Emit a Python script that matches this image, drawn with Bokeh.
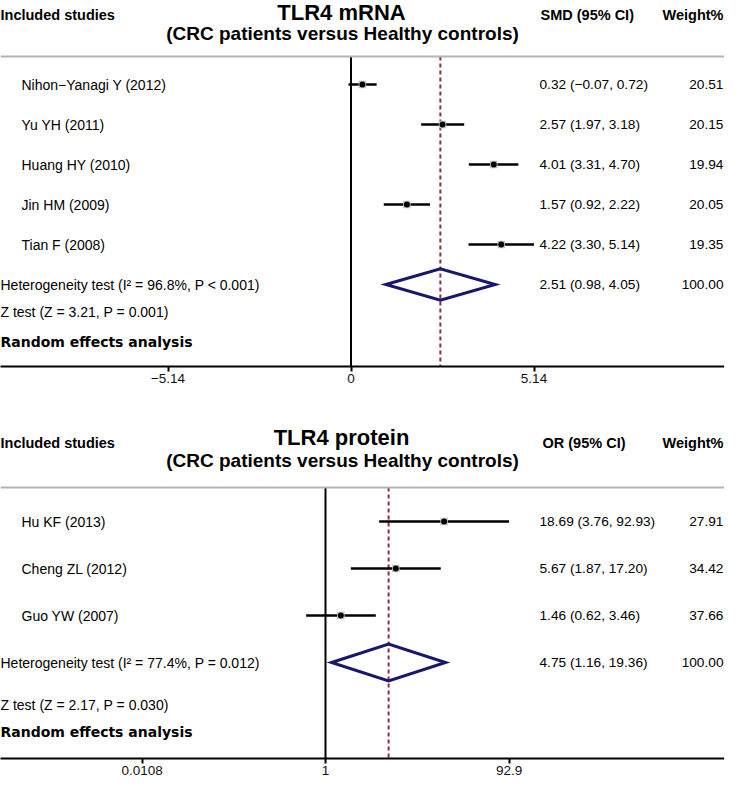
import math
from bokeh.plotting import figure
from bokeh.layouts import column
from bokeh.models import (Range1d, ColumnDataSource, LabelSet, Label, FixedTicker, Span)
from bokeh.core.properties import value
from bokeh.embed import file_html
from bokeh.resources import INLINE

# ---------------- data: TLR4 mRNA (SMD) ----------------
mrna_studies = ["Nihon\u2212Yanagi Y (2012)", "Yu YH (2011)", "Huang HY (2010)", "Jin HM (2009)", "Tian F (2008)"]
mrna_est = [0.32, 2.57, 4.01, 1.57, 4.22]
mrna_lo = [-0.07, 1.97, 3.31, 0.92, 3.30]
mrna_hi = [0.72, 3.18, 4.70, 2.22, 5.14]
mrna_weight = [20.51, 20.15, 19.94, 20.05, 19.35]
mrna_pooled = [2.51, 0.98, 4.05]
mrna_het = "Heterogeneity test (I\u00b2 = 96.8%, P < 0.001)"
mrna_z = "Z test (Z = 3.21, P = 0.001)"
mrna_ticks = [-5.14, 0, 5.14]
mrna_tick_labels = ["\u22125.14", "0", "5.14"]

# ---------------- data: TLR4 protein (OR) ----------------
prot_studies = ["Hu KF (2013)", "Cheng ZL (2012)", "Guo YW (2007)"]
prot_est = [18.69, 5.67, 1.46]
prot_lo = [3.76, 1.87, 0.62]
prot_hi = [92.93, 17.20, 3.46]
prot_weight = [27.91, 34.42, 37.66]
prot_pooled = [4.75, 1.16, 19.36]
prot_het = "Heterogeneity test (I\u00b2 = 77.4%, P = 0.012)"
prot_z = "Z test (Z = 2.17, P = 0.030)"
prot_ticks = [0.0108, 1, 92.9]
prot_tick_labels = ["0.0108", "1", "92.9"]

pooled_weight = 100.00

FONT = "Liberation Sans"
RED = "#8e2f3f"
NAVY = "#17176e"
GRAY = "#b4b4b4"


def fmt(v):
    return f"{v:.2f}".replace("-", "\u2212")


def panel(title, subtitle, eff_label, studies, est, lo, hi, weight, pooled, het, ztxt,
          ticks, tick_labels, null_value, log, x_range, y_range, height, bborder, pos):
    p = figure(width=724, height=height, x_range=x_range, y_range=y_range,
               x_axis_type="log" if log else "linear", y_axis_location=None,
               output_backend="svg", toolbar_location=None,
               min_border_left=0, min_border_right=0, min_border_top=0,
               min_border_bottom=bborder)
    p.outline_line_color = None
    p.grid.visible = False
    p.background_fill_color = "white"
    p.border_fill_color = "white"

    ax = p.xaxis[0]
    ax.ticker = FixedTicker(ticks=ticks)
    ax.major_label_overrides = {t: s for t, s in zip(ticks, tick_labels)}
    ax.axis_line_width = 2
    ax.axis_line_color = "black"
    ax.major_tick_line_width = 2
    ax.major_tick_in = 0
    ax.major_tick_out = 5
    ax.minor_tick_line_color = None
    ax.major_label_standoff = 2
    ax.major_label_text_font = FONT
    ax.major_label_text_font_size = "13.5px"
    ax.major_label_text_color = "#111111"

    rows = list(range(1, len(studies) + 1))
    het_row = len(studies) + 1
    ybottom = y_range.start

    # separator line
    p.add_layout(Span(location=pos["gray"], dimension="width", line_color=GRAY, line_width=2))
    # null line and pooled line
    p.segment(x0=[null_value], x1=[null_value], y0=[pos["gray"]], y1=[ybottom],
              line_color="black", line_width=2)
    p.segment(x0=[pooled[0]], x1=[pooled[0]], y0=[pos["gray"]], y1=[ybottom],
              line_color=RED, line_width=2, line_dash="4 3")

    src = ColumnDataSource(dict(
        row=rows, est=est, lo=lo, hi=hi, name=studies,
        ci=[f"{fmt(e)} ({fmt(l)}, {fmt(h)})" for e, l, h in zip(est, lo, hi)],
        w=[f"{w:.2f}" for w in weight]))
    p.segment(x0="lo", x1="hi", y0="row", y1="row", source=src,
              line_color="black", line_width=2.6)
    p.scatter(x="est", y="row", source=src, marker="square", size=7.5,
              fill_color="#c4c4c4", line_color=None)
    p.scatter(x="est", y="row", source=src, marker="circle", size=6,
              fill_color="black", line_color=None)

    # pooled diamond
    h = 0.39
    p.patch(x=[pooled[1], pooled[0], pooled[2], pooled[0]],
            y=[het_row, het_row - h, het_row, het_row + h],
            fill_color=None, line_color=NAVY, line_width=3, line_join="miter")

    names = dict(x_units="screen", y_units="data", text_baseline="middle",
                 text_font=value(FONT), text_font_size=value("14px"), text_color=value("black"))
    nums = dict(names, text_font_size=value("13.7px"))
    p.add_layout(LabelSet(x=21, y="row", text="name", source=src, **names))
    p.add_layout(LabelSet(x=539, y="row", text="ci", source=src, **nums))
    p.add_layout(LabelSet(x=723, y="row", text="w", source=src, text_align="right", **nums))

    single = dict(x_units="screen", y_units="data", text_baseline="middle",
                  text_font=FONT, text_font_size="14px", text_color="black")
    single_num = dict(single, text_font_size="13.7px")
    p.add_layout(Label(x=0, y=het_row, text=het, **single))
    p.add_layout(Label(x=539, y=het_row,
                       text=f"{fmt(pooled[0])} ({fmt(pooled[1])}, {fmt(pooled[2])})", **single_num))
    p.add_layout(Label(x=723, y=het_row, text=f"{pooled_weight:.2f}", text_align="right", **single_num))
    p.add_layout(Label(x=0, y=pos["z"], text=ztxt, **single))
    p.add_layout(Label(x=0, y=pos["rand"], text="Random effects analysis", x_units="screen",
                       text_baseline="middle", text_font="DejaVu Sans", text_font_style="bold",
                       text_font_size="14px", text_color="black"))

    bold = dict(x_units="screen", y_units="data", text_baseline="middle", text_font=FONT,
                text_font_style="bold", text_color="black")
    p.add_layout(Label(x=0, y=pos["head"], text="Included studies", text_font_size="14.5px", **bold))
    p.add_layout(Label(x=pos["effx"], y=pos["head"], text=eff_label, text_font_size="14.5px", **bold))
    p.add_layout(Label(x=723, y=pos["head"], text="Weight%", text_align="right",
                       text_font_size="14.5px", **bold))
    p.add_layout(Label(x=341, y=pos["title"], text=title, text_align="center",
                       text_font_size="22px", **bold))
    p.add_layout(Label(x=342, y=pos["sub"], text=subtitle, text_align="center",
                       text_font_size="19px", **bold))
    return p


# layout geometry (screen pixels)
px_unit = 183 / 5.14
top_xr = Range1d(-350.5 / px_unit, (724 - 350.5) / px_unit)
top_yr = Range1d((366 - 44) / 40, -44 / 40)
p1 = panel("TLR4 mRNA", "(CRC patients versus Healthy controls)", "SMD (95% CI)",
           mrna_studies, mrna_est, mrna_lo, mrna_hi, mrna_weight, mrna_pooled,
           mrna_het, mrna_z, mrna_ticks, mrna_tick_labels, 0, False,
           top_xr, top_yr, 393, 27,
           dict(gray=0.3, z=6.675, rand=7.425, head=-0.75, title=-0.8, sub=-0.28, effx=540))

px_ln = 183.5 / math.log(92.9 / 0.0108) * 2
bot_xr = Range1d(math.exp(-325 / px_ln), math.exp((724 - 325) / px_ln))
bot_yr = Range1d((365 - 81) / 47, -81 / 47)
p2 = panel("TLR4 protein", "(CRC patients versus Healthy controls)", "OR (95% CI)",
           prot_studies, prot_est, prot_lo, prot_hi, prot_weight, prot_pooled,
           prot_het, prot_z, prot_ticks, prot_tick_labels, 1, True,
           bot_xr, bot_yr, 388, 23,
           dict(gray=0.277, z=4.894, rand=5.489, head=-0.66, title=-0.787, sub=-0.298, effx=542))

layout = column(p1, p2, spacing=0)
open("out.html", "w").write(file_html(layout, INLINE))
